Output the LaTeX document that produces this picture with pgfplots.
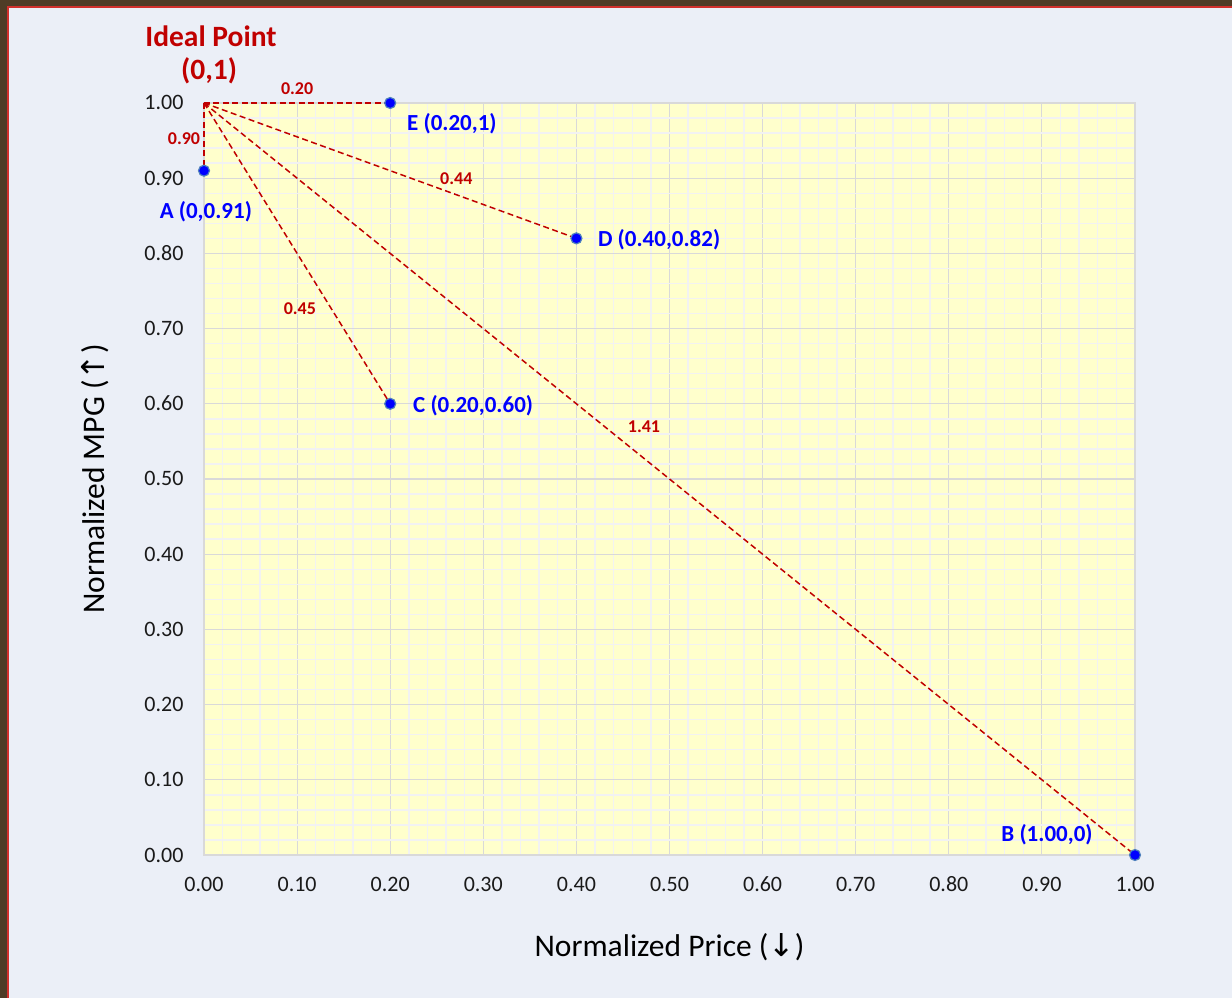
\documentclass[border=0pt]{standalone}
\usepackage{pgfplots}
\pgfplotsset{compat=1.18}
\usepackage{fontspec}
\setmainfont{Carlito}
\newfontfamily\arrowfont{DejaVu Sans}
\definecolor{bgc}{HTML}{EBEFF7}
\definecolor{framec}{HTML}{4F3C26}
\definecolor{framered}{HTML}{D2302C}
\definecolor{plotbg}{HTML}{FFFFCC}
\definecolor{majgrid}{HTML}{D9D9D9}
\definecolor{mingrid}{HTML}{F2F2F2}
\definecolor{dred}{HTML}{C00000}
\definecolor{ptblue}{HTML}{0000FF}
\definecolor{ptedge}{HTML}{4F81BD}
\definecolor{ticktext}{HTML}{1A1A1A}
\begin{document}
\begin{tikzpicture}
% background and frame
\fill[bgc] (-204bp,-143bp) rectangle (1028bp,855bp);
\fill[framec] (-204bp,848.5bp) rectangle (1028bp,855bp);
\fill[framec] (-204bp,-143bp) rectangle (-197bp,855bp);
\fill[framered] (-197bp,-143bp) rectangle (-195bp,848.5bp);
\fill[framered] (-197bp,846.5bp) rectangle (1028bp,848.5bp);
\begin{axis}[
  at={(0,0)}, anchor=south west,
  width=931bp, height=752bp, scale only axis,
  xmin=0, xmax=1, ymin=0, ymax=1,
  clip=false,
  axis background/.style={fill=plotbg},
  xtick={0,0.1,0.2,0.3,0.4,0.5,0.6,0.7,0.8,0.9,1},
  ytick={0,0.1,0.2,0.3,0.4,0.5,0.6,0.7,0.8,0.9,1},
  minor x tick num=4, minor y tick num=4,
  grid=both,
  major grid style={color=majgrid, line width=1.1bp},
  minor grid style={color=mingrid, line width=1.4bp},
  axis line style={color=majgrid, line width=1.3bp},
  tick style={draw=none},
  /pgf/number format/assume math mode=true,
  /pgf/number format/.cd, fixed, fixed zerofill, precision=2, /pgfplots/.cd,
  ticklabel style={font=\fontsize{22bp}{26bp}\selectfont, text=ticktext},
  xticklabel style={anchor=base, yshift=-36bp},
  yticklabel style={anchor=base east, xshift=-17bp, yshift=-7bp},
  xlabel={Normalized Price ({\arrowfont ↓})},
  ylabel={Normalized MPG ({\arrowfont ↑})},
  label style={font=\fontsize{31.5bp}{36bp}\selectfont, text=black},
  xlabel style={at={(axis description cs:0.5,0)}, anchor=center, yshift=-92bp},
  ylabel style={at={(axis description cs:0,0.5)}, anchor=center, yshift=109bp},
]
% dashed distance lines
\addplot[dred, dash pattern=on 6bp off 3.5bp, line width=1.5bp] coordinates {(0,1) (0,0.91)};
\addplot[dred, dash pattern=on 6bp off 3.5bp, line width=1.5bp] coordinates {(0,1) (0.20,1)};
\addplot[dred, dash pattern=on 6bp off 3.5bp, line width=1.5bp] coordinates {(0,1) (0.40,0.82)};
\addplot[dred, dash pattern=on 6bp off 3.5bp, line width=1.5bp] coordinates {(0,1) (0.20,0.60)};
\addplot[dred, dash pattern=on 6bp off 3.5bp, line width=1.5bp] coordinates {(0,1) (1.00,0)};
% points
\addplot[only marks, mark=*, mark size=5.5bp, mark options={fill=ptblue, draw=ptedge, line width=1.2bp}]
  coordinates {(0,0.91) (1.00,0) (0.20,0.60) (0.40,0.82) (0.20,1)};
% point labels
\begin{scope}[every node/.style={font=\fontsize{23bp}{27bp}\selectfont\bfseries, text=ptblue, inner sep=0pt}]
\node at (axis cs:0.002,0.856) {A (0,0.91)};
\node at (axis cs:0.9055,0.0266) {B (1.00,0)};
\node[anchor=west] at (axis cs:0.2245,0.598) {C (0.20,0.60)};
\node[anchor=west] at (axis cs:0.423,0.818) {D (0.40,0.82)};
\node[anchor=west] at (axis cs:0.218,0.972) {E (0.20,1)};
\end{scope}
% distance labels
\begin{scope}[every node/.style={font=\fontsize{18bp}{21bp}\selectfont\bfseries, text=dred, inner sep=0pt}]
\node at (axis cs:0.1,1.019) {0.20};
\node at (axis cs:-0.0215,0.953) {0.90};
\node at (axis cs:0.271,0.900) {0.44};
\node at (axis cs:0.103,0.727) {0.45};
\node at (axis cs:0.4726,0.569) {1.41};
\end{scope}
% ideal point
\node[font=\fontsize{29.5bp}{33bp}\selectfont\bfseries, text=dred, inner sep=0pt] at (axis cs:0.0075,1.089) {Ideal Point};
\node[font=\fontsize{29.5bp}{33bp}\selectfont\bfseries, text=dred, inner sep=0pt] at (axis cs:0.0055,1.043) {(0,1)};
\end{axis}
\pgfresetboundingbox
\path[use as bounding box] (-204bp,-143bp) rectangle (1028bp,855bp);
\end{tikzpicture}
\end{document}
